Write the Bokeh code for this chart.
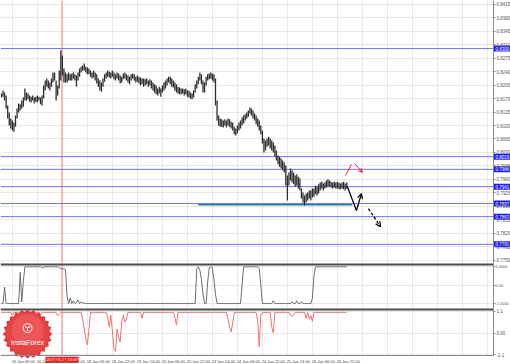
from bokeh.plotting import figure
from bokeh.layouts import column
from bokeh.models import (ColumnDataSource, FixedTicker, Arrow, OpenHead,
                          Range1d, NumeralTickFormatter, BoxAnnotation)
from bokeh.core.properties import value
from bokeh.embed import file_html
from bokeh.resources import INLINE

# ---------------- data (H1 bars) ----------------
bar_high = [
    0.8183, 0.8191, 0.8186, 0.8178, 0.8152, 0.8134, 0.8118, 0.8113, 0.8108, 0.8126,
    0.8144, 0.8157, 0.8155, 0.8165, 0.8173, 0.8196, 0.8186, 0.8183, 0.8178, 0.8175,
    0.8178, 0.8173, 0.8175, 0.8178, 0.8175, 0.8173, 0.8178, 0.8204, 0.8217, 0.8222,
    0.8217, 0.8212, 0.8222, 0.8238, 0.8238, 0.8217, 0.8204, 0.8243, 0.8295, 0.8282,
    0.8248, 0.8238, 0.8233, 0.8238, 0.8233, 0.8235, 0.8238, 0.8233, 0.8230, 0.8238,
    0.8248, 0.8253, 0.8256, 0.8261, 0.8253, 0.8251, 0.8248, 0.8243, 0.8238, 0.8243,
    0.8238, 0.8233, 0.8222, 0.8217, 0.8212, 0.8222, 0.8233, 0.8238, 0.8243, 0.8240,
    0.8238, 0.8243, 0.8238, 0.8233, 0.8238, 0.8235, 0.8230, 0.8227, 0.8235, 0.8238,
    0.8233, 0.8230, 0.8227, 0.8233, 0.8235, 0.8233, 0.8227, 0.8230, 0.8227, 0.8225,
    0.8222, 0.8222, 0.8220, 0.8222, 0.8217, 0.8220, 0.8217, 0.8212, 0.8207, 0.8204,
    0.8196, 0.8201, 0.8196, 0.8204, 0.8212, 0.8217, 0.8222, 0.8227, 0.8227, 0.8222,
    0.8217, 0.8212, 0.8207, 0.8201, 0.8199, 0.8196, 0.8196, 0.8194, 0.8196, 0.8191,
    0.8191, 0.8186, 0.8183, 0.8191, 0.8207, 0.8217, 0.8227, 0.8238, 0.8233, 0.8217,
    0.8212, 0.8227, 0.8233, 0.8235, 0.8238, 0.8235, 0.8233, 0.8222, 0.8165, 0.8126,
    0.8118, 0.8116, 0.8113, 0.8116, 0.8113, 0.8118, 0.8116, 0.8110, 0.8108, 0.8097,
    0.8092, 0.8100, 0.8108, 0.8113, 0.8121, 0.8126, 0.8129, 0.8134, 0.8139, 0.8147,
    0.8144, 0.8139, 0.8131, 0.8126, 0.8118, 0.8113, 0.8100, 0.8087, 0.8066, 0.8061,
    0.8066, 0.8071, 0.8066, 0.8061, 0.8056, 0.8048, 0.8035, 0.8022, 0.8019, 0.8014,
    0.8009, 0.8004, 0.7996, 0.7970, 0.7978, 0.7988, 0.7983, 0.7978, 0.7970, 0.7973,
    0.7967, 0.7962, 0.7936, 0.7926, 0.7918, 0.7923, 0.7926, 0.7931, 0.7931, 0.7936,
    0.7936, 0.7944, 0.7941, 0.7947, 0.7952, 0.7954, 0.7949, 0.7952, 0.7957, 0.7960,
    0.7957, 0.7954, 0.7952, 0.7954, 0.7952, 0.7954, 0.7952, 0.7949, 0.7952, 0.7954,
    0.7949, 0.7952]

bar_low = [
    0.8173, 0.8175, 0.8165, 0.8144, 0.8118, 0.8100, 0.8092, 0.8087, 0.8084, 0.8097,
    0.8118, 0.8134, 0.8139, 0.8144, 0.8149, 0.8165, 0.8165, 0.8168, 0.8162, 0.8160,
    0.8165, 0.8157, 0.8162, 0.8160, 0.8165, 0.8155, 0.8152, 0.8170, 0.8191, 0.8201,
    0.8196, 0.8191, 0.8201, 0.8212, 0.8217, 0.8165, 0.8178, 0.8196, 0.8217, 0.8230,
    0.8212, 0.8212, 0.8212, 0.8217, 0.8217, 0.8217, 0.8222, 0.8217, 0.8201, 0.8217,
    0.8227, 0.8238, 0.8243, 0.8243, 0.8238, 0.8233, 0.8233, 0.8227, 0.8222, 0.8225,
    0.8217, 0.8209, 0.8201, 0.8191, 0.8188, 0.8201, 0.8214, 0.8222, 0.8227, 0.8225,
    0.8222, 0.8227, 0.8220, 0.8217, 0.8222, 0.8217, 0.8209, 0.8212, 0.8220, 0.8222,
    0.8217, 0.8212, 0.8207, 0.8217, 0.8222, 0.8217, 0.8212, 0.8214, 0.8209, 0.8204,
    0.8207, 0.8201, 0.8204, 0.8207, 0.8201, 0.8204, 0.8196, 0.8191, 0.8186, 0.8181,
    0.8178, 0.8183, 0.8175, 0.8186, 0.8191, 0.8196, 0.8204, 0.8212, 0.8207, 0.8201,
    0.8199, 0.8191, 0.8186, 0.8183, 0.8181, 0.8181, 0.8183, 0.8178, 0.8181, 0.8175,
    0.8173, 0.8170, 0.8168, 0.8173, 0.8186, 0.8196, 0.8207, 0.8217, 0.8207, 0.8186,
    0.8186, 0.8204, 0.8217, 0.8220, 0.8222, 0.8217, 0.8212, 0.8152, 0.8113, 0.8100,
    0.8097, 0.8097, 0.8095, 0.8100, 0.8095, 0.8100, 0.8097, 0.8092, 0.8087, 0.8077,
    0.8074, 0.8079, 0.8087, 0.8092, 0.8100, 0.8105, 0.8113, 0.8118, 0.8123, 0.8131,
    0.8126, 0.8118, 0.8113, 0.8103, 0.8097, 0.8087, 0.8077, 0.8053, 0.8030, 0.8035,
    0.8045, 0.8048, 0.8040, 0.8035, 0.8030, 0.8019, 0.8009, 0.7999, 0.7993, 0.7988,
    0.7983, 0.7978, 0.7944, 0.7905, 0.7944, 0.7957, 0.7952, 0.7947, 0.7941, 0.7944,
    0.7936, 0.7931, 0.7910, 0.7900, 0.7892, 0.7900, 0.7905, 0.7910, 0.7905, 0.7913,
    0.7915, 0.7921, 0.7918, 0.7923, 0.7931, 0.7936, 0.7931, 0.7936, 0.7939, 0.7941,
    0.7941, 0.7939, 0.7936, 0.7939, 0.7936, 0.7936, 0.7934, 0.7934, 0.7936, 0.7934,
    0.7931, 0.7936]

osc_upper = [
    -1, -1, -0.1, -1, -1, -1, -1, -1, -1, -1,
    -1, -1, 0.7, -0.9, 0.2, 1, 1, 1, 1, 1,
    1, 1, 1, 1, 1, 1, 0.95, 0.97, 1, 1,
    1, 1, 1, 1, 1, 1, 1, 0.95, 0.9, 0.88,
    0.9, 0.85, -0.6, -1, -0.7, -1, -0.85, -1, -0.95, -0.8,
    -1, -0.9, -1, -0.95, -1, -1, -1, -1, -1, -1,
    -1, -1, -1, -1, -1, -1, -1, -1, -1, -1,
    -1, -1, -1, -1, -1, -1, -1, -1, -1, -1,
    -1, -1, -1, -1, -1, -1, -1, -1, -1, -1,
    -1, -1, -1, -1, -1, -1, -1, -1, -1, -1,
    -1, -1, -1, -1, -1, -1, -1, -1, -1, -1,
    -1, -1, -1, -1, -1, -1, -1, -1, -1, -1,
    -1, -1, -1, -1, -1, 0.9, 1, 0.8, 0.3, -0.5,
    -1, -1, 0.2, 0.95, 1, 0.95, 0.3, -0.5, -1, -1,
    -1, -1, -1, -1, -1, -1, -1, -1, -1, -1,
    -1, -1, -1, -1, 0, 1, 1, 1, 1, 1,
    1, 1, 1, 1, 1, 0.9, 0, -1, -1, -1,
    -1, -1, -1, -1, -0.85, -1, -1, -1, -1, -1,
    -1, -1, -1, -1, -1, -1, -0.9, -1, -1, -0.85,
    -1, -1, -0.9, -1, -1, -1, -1, -1, -1, -0.7,
    0.5, 1, 1, 1, 1, 1, 1, 1, 1, 1,
    1, 1, 1, 1, 1, 1, 1, 1, 1, 1,
    1, 1]

osc_lower = [
    1.05, 1.05, 1.05, 1.05, 1.05, 1.05, 1.05, 0.9, 1.05, 1.05,
    1.05, 1.05, 1.05, 1.05, 1.05, 1.05, 1.05, 1.05, 1.05, 1.05,
    1.05, 1.05, 1.05, 1.05, 1.05, 0.92, 1.05, 1.05, 1.05, 1.05,
    1.05, 1.05, 1.05, 1.05, 1.05, 1.05, 0.88, 0.95, 1.05, 1.05,
    1.05, 1.05, 1.05, 1.05, 1.05, 1.05, 1.05, 1.05, 1.05, 1.05,
    1.05, 1.05, 0.7, 0.2, -0.3, -0.6, 0.2, 1.05, 1.05, 1.05,
    1.05, 1.05, 1.05, 1.05, 1.05, 1.05, 1.05, 1.05, 0.8, 0.3,
    0.9, 0.1, -0.8, -0.95, 0.2, -0.2, -0.45, 0.6, 0.9, 0.55,
    0.7, 1.05, 1.05, 1.05, 1.05, 1.05, 1.05, 1.05, 1.05, 1.05,
    0.75, 1.05, 1.05, 1.05, 1.05, 1.05, 1.05, 1.05, 1.05, 1.05,
    1.05, 1.05, 1.05, 1.05, 1.05, 1.05, 1.05, 1.05, 1.05, 1.05,
    1.05, 0.8, 0.4, 1.05, 1.05, 1.05, 1.05, 1.05, 1.05, 1.05,
    1.05, 1.05, 1.05, 1.05, 1.05, 1.05, 1.05, 1.05, 1.05, 1.05,
    1.05, 1.05, 1.05, 1.05, 1.05, 1.05, 1.05, 1.05, 1.05, 1.05,
    1.05, 1.05, 1.05, 1.05, 1.05, 0.7, 0.3, 0.05, 0.5, 1.05,
    1.05, 1.05, 1.05, 1.05, 1.05, 1.05, 1.05, 1.05, 1.05, 1.05,
    1.05, 1.05, 1.05, 1.05, 0.6, -0.7, 0.9, 1.05, 1.05, 1.05,
    1.05, 1.05, 1.05, 0.3, 0.0, 1.05, 1.05, 1.05, 1.05, 1.05,
    1.05, 1.05, 1.05, 1.05, 1.05, 0.9, 0.85, 0.95, 1.05, 1.05,
    1.05, 1.05, 1.05, 1.05, 1.05, 0.75, 1.05, 0.7, 0.9, 0.6,
    1.05, 1.05, 1.05, 1.05, 1.05, 1.05, 1.05, 1.05, 1.05, 1.05,
    1.05, 1.05, 1.05, 1.05, 1.05, 1.05, 1.05, 1.05, 1.05, 1.05,
    1.05, 1.05]

price_ticks = [0.8415, 0.8380, 0.8345, 0.8310, 0.8275, 0.8240, 0.8205, 0.8170,
               0.8135, 0.8100, 0.8065, 0.8030, 0.7995, 0.7960, 0.7925, 0.7890,
               0.7855, 0.7820, 0.7785, 0.7750]
level_prices = [0.8300, 0.8019, 0.7986, 0.7941, 0.7897, 0.7863, 0.7791]
level_labels = ["0.8300", "0.8019", "0.7986", "0.7941", "0.7897", "0.7863", "0.7791"]
support_price = 0.7894
support_from, support_to = 126, 224.5

time_ticks = [7, 23, 39, 55, 71, 87, 103, 119, 135, 151, 167, 183, 199, 215]
time_labels = ["16 Jan 06:00", "16 Jan 22:00", "17 Jan 14:00", "18 Jan 06:00",
               "18 Jan 22:00", "19 Jan 14:00", "20 Jan 06:00", "20 Jan 22:00",
               "23 Jan 14:00", "24 Jan 06:00", "24 Jan 22:00", "25 Jan 14:00",
               "26 Jan 06:00", "26 Jan 22:00"]
cursor_bar = 38.76
cursor_label = "2017.01.17 13:00"

upper_ticks = [1, 0, -1]
upper_labels = ["1.0000", "0.00", "-1.0000"]
lower_ticks = [1.1, 0, -1.1]
lower_labels = ["1.1", "0.00", "-1.1"]

# forecast drawing (bar index, price)
fc_path_x = [221.4, 227.2]
fc_path_y = [0.7941, 0.7879]
fc_up = (227.2, 0.7879, 230.4, 0.7923)
fc_dash = (234.9, 0.7884, 242.6, 0.7837)
red_line_x = [220.2, 224.0]
red_line_y = [0.7970, 0.7999]
red_arrow = (226.0, 0.8001, 231.0, 0.7978)

# ---------------- chart ----------------
FONT = "Liberation Sans"
CURSOR = "#ff7a7a"
n = len(bar_high)
src = ColumnDataSource(dict(i=list(range(n)), high=bar_high, low=bar_low,
                            up=osc_upper, lo=osc_lower))
X0, X1 = -0.6, 325.8          # full 510 px width, 1.5625 px per bar
AXIS_X = 314.96               # price scale line sits here (493 px)
xr = Range1d(X0, X1)
grid_ticks = list(range(time_ticks[0], 320, 16))
LABEL_SHIFT = 7               # bars: MT4 time labels start at their tick


def make(h, yr, xloc=None, fs="4.5px"):
    p = figure(frame_width=510, frame_height=h, x_range=xr, y_range=yr,
               y_axis_location="right", x_axis_location=xloc,
               toolbar_location=None, tools="", output_backend="svg",
               min_border=0)
    p.background_fill_color = "white"
    p.border_fill_color = "white"
    p.outline_line_color = None
    ax = p.yaxis[0]
    ax.fixed_location = AXIS_X
    ax.bounds = yr
    ax.major_label_text_font_size = fs
    ax.major_label_text_font = FONT
    ax.major_label_text_color = "#555555"
    ax.axis_line_color = "#8a8a8a"
    ax.major_tick_line_color = "#8a8a8a"
    ax.major_tick_in = 0
    ax.major_tick_out = 2
    ax.minor_tick_line_color = None
    ax.major_label_standoff = 1
    p.xgrid.ticker = FixedTicker(ticks=grid_ticks)
    for g in (p.xgrid[0], p.ygrid[0]):
        g.grid_line_color = "#d2d2d2"
        g.grid_line_dash = "1 1"
        g.grid_line_width = 1
    # price-scale strip stays clean
    p.add_layout(BoxAnnotation(left=AXIS_X, fill_color="white", fill_alpha=1,
                               line_color=None, level="underlay"))
    return p


# main price panel
p1 = make(263, (0.77412, 0.8425))
p1.yaxis.ticker = FixedTicker(ticks=price_ticks)
p1.yaxis.formatter = NumeralTickFormatter(format="0.0000")
p1.segment(x0=cursor_bar, x1=cursor_bar, y0=0.77412, y1=0.8425,
           line_color=CURSOR, line_width=1)
p1.segment(x0=X0, x1=AXIS_X, y0=level_prices, y1=level_prices,
           line_color="#7272ee", line_width=1)
p1.segment(x0=support_from, x1=support_to, y0=support_price, y1=support_price,
           line_color="#2a7f96", line_width=1.6)
p1.segment(x0="i", y0="low", x1="i", y1="high", source=src,
           line_color="#2e2e2e", line_width=1.3)
p1.rect(x=AXIS_X + 5.6, y=level_prices, width=17, height=6,
        width_units="screen", height_units="screen",
        fill_color="#1c1cff", line_color=None)
p1.text(x=AXIS_X + 5.6, y=level_prices, text=level_labels,
        text_font=value(FONT), text_font_size="4.5px", text_color="white",
        text_align="center", text_baseline="middle")
p1.line(fc_path_x, fc_path_y, line_color="black", line_width=1.3)
p1.add_layout(Arrow(end=OpenHead(size=5, line_color="black", line_width=1.2),
                    x_start=fc_up[0], y_start=fc_up[1], x_end=fc_up[2],
                    y_end=fc_up[3], line_color="black", line_width=1.3))
p1.add_layout(Arrow(end=OpenHead(size=5, line_color="black", line_width=1.2),
                    x_start=fc_dash[0], y_start=fc_dash[1], x_end=fc_dash[2],
                    y_end=fc_dash[3], line_color="black", line_width=1.3,
                    line_dash="3 2"))
p1.line(red_line_x, red_line_y, line_color="#e42525", line_width=1)
p1.add_layout(Arrow(end=OpenHead(size=4, line_color="#e42525", line_width=1),
                    x_start=red_arrow[0], y_start=red_arrow[1],
                    x_end=red_arrow[2], y_end=red_arrow[3],
                    line_color="#e42525", line_width=1))

# upper oscillator
U0, U1 = -1.27, 1.18
p2 = make(45, (U0, U1), fs="3.9px")
p2.yaxis.major_label_standoff = 0
p2.yaxis.ticker = FixedTicker(ticks=upper_ticks)
p2.yaxis.major_label_overrides = dict(zip(upper_ticks, upper_labels))
p2.segment(x0=cursor_bar, x1=cursor_bar, y0=U0, y1=U1,
           line_color=CURSOR, line_width=1)
p2.line(x="i", y="up", source=src, line_color="#6e6e6e", line_width=1)
p2.segment(x0=X0, x1=AXIS_X, y0=U1, y1=U1, line_color="#4d4d4d", line_width=4)

# lower oscillator + time axis (frame runs down over the time scale)
L_BOTTOM, L_TOP, L_MIN = -1.15, 1.25, -1.607
p3 = make(56, (L_MIN, L_TOP), xloc="below")
p3.yaxis.bounds = (L_BOTTOM, L_TOP)
p3.yaxis.ticker = FixedTicker(ticks=lower_ticks)
p3.yaxis.major_label_overrides = dict(zip(lower_ticks, lower_labels))
p3.add_layout(BoxAnnotation(top=L_BOTTOM, fill_color="white", fill_alpha=1,
                            line_color=None, level="underlay"))
label_pos = [t + LABEL_SHIFT for t in time_ticks]
xa = p3.xaxis[0]
xa.fixed_location = L_BOTTOM
xa.bounds = (X0, AXIS_X)
xa.ticker = FixedTicker(ticks=label_pos)
xa.major_label_overrides = dict(zip(label_pos, time_labels))
xa.major_label_text_font = FONT
xa.major_label_text_font_size = "4px"
xa.major_label_text_color = "#444444"
xa.major_label_standoff = 1
xa.major_tick_in = 0
xa.major_tick_out = 2
xa.major_tick_line_color = None
xa.minor_tick_line_color = None
xa.axis_line_color = "#8a8a8a"
p3.segment(x0=cursor_bar, x1=cursor_bar, y0=L_BOTTOM, y1=L_TOP,
           line_color=CURSOR, line_width=1)
p3.line(x="i", y="lo", source=src, line_color="#f07272", line_width=1)
p3.segment(x0=X0, x1=AXIS_X, y0=L_TOP, y1=L_TOP, line_color="#4d4d4d",
           line_width=4)

# InstaForex badge
logo_x, logo_y = 16.7, -0.05
for ang in range(0, 90, 15):
    p3.scatter([logo_x], [logo_y], marker="square", size=35, angle=ang,
               angle_units="deg", fill_color="#e03a3a", line_color=None)
p3.scatter([logo_x], [logo_y], marker="circle", size=43,
           fill_color="#e64444", line_color=None)
p3.scatter([logo_x], [logo_y + 0.2], marker="circle", size=32,
           fill_color="#f06262", line_color=None, fill_alpha=0.6)
p3.scatter([logo_x], [logo_y + 0.3], marker="circle", size=9,
           fill_color=None, line_color="white", line_width=1)
p3.scatter([logo_x], [logo_y + 0.3], marker="y", size=6,
           line_color="white", line_width=1)
p3.text(x=[logo_x], y=[logo_y - 0.45], text=["InstaForex"],
        text_font=value(FONT), text_font_size="7px", text_color="white",
        text_align="center", text_baseline="middle")

# cursor time tag on the time scale
p3.rect(x=[cursor_bar], y=[L_BOTTOM - 0.22], width=33, height=6,
        width_units="screen", height_units="screen",
        fill_color="#ff1a1a", line_color=None)
p3.text(x=[cursor_bar], y=[L_BOTTOM - 0.22], text=[cursor_label],
        text_font=value(FONT), text_font_size="4px", text_color="white",
        text_align="center", text_baseline="middle")

layout = column(p1, p2, p3, spacing=0)
open("out.html", "w").write(file_html(layout, INLINE, title="chart"))
